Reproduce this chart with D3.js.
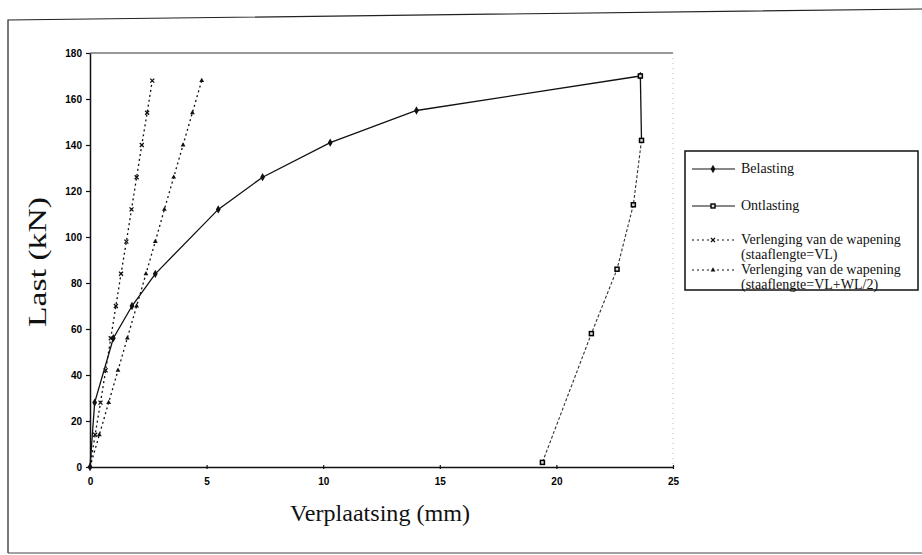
<!DOCTYPE html>
<html><head><meta charset="utf-8">
<script src="https://cdn.jsdelivr.net/npm/d3@7"></script>
<style>body{margin:0;background:#fff}svg{display:block}</style>
</head><body>
<script>
// ---- data ----
const belastingX = [0, 0.2, 1.0, 1.8, 2.8, 5.5, 7.4, 10.3, 14.0, 23.6];
const belastingY = [0, 28, 56, 70, 84, 112, 126, 141, 155, 170];
const ontlastingX = [23.6, 23.65, 23.3, 22.6, 21.5, 19.4];
const ontlastingY = [170, 142, 114, 86, 58, 2];
const vlX = [0, 0.22, 0.45, 0.67, 0.89, 1.11, 1.33, 1.56, 1.78, 2.0, 2.22, 2.45, 2.67];
const vlY = [0, 14, 28, 42, 56, 70, 84, 98, 112, 126, 140, 154, 168];
const vlwlX = [0, 0.4, 0.8, 1.2, 1.6, 2.0, 2.4, 2.8, 3.19, 3.59, 3.99, 4.39, 4.79];
const vlwlY = [0, 14, 28, 42, 56, 70, 84, 98, 112, 126, 140, 154, 168];
const xTicks = [0, 5, 10, 15, 20, 25];
const yTicks = [0, 20, 40, 60, 80, 100, 120, 140, 160, 180];
const legendLabels = [["Belasting"], ["Ontlasting"],
  ["Verlenging van de wapening", "(staaflengte=VL)"],
  ["Verlenging van de wapening", "(staaflengte=VL+WL/2)"]];

const W = 922, H = 555;
const svg = d3.select("body").append("svg").attr("width", W).attr("height", H);

// outer frame (scanned page frame)
svg.append("path").attr("d", "M8,553 L8,20 L922,9").attr("fill", "none").attr("stroke", "#222").attr("stroke-width", 1.2);
svg.append("line").attr("x1", 8).attr("x2", 922).attr("y1", 553).attr("y2", 553).attr("stroke", "#444").attr("stroke-width", 1);

const x = d3.scaleLinear().domain([0, 25]).range([90, 673]);
const y = d3.scaleLinear().domain([0, 180]).range([467, 53]);

// plot area borders
svg.append("line").attr("x1", x(0)).attr("x2", x(25)).attr("y1", y(180)).attr("y2", y(180)).attr("stroke", "#333").attr("stroke-width", 1);
svg.append("line").attr("x1", x(25)).attr("x2", x(25)).attr("y1", y(180)).attr("y2", y(0)).attr("stroke", "#bbb").attr("stroke-width", 1).attr("stroke-dasharray", "1,4");

// axes
const xAxis = d3.axisBottom(x).tickValues(xTicks).tickSize(4).tickSizeOuter(0).tickFormat(d3.format("d"));
const gx = svg.append("g").attr("transform", `translate(0,${y(0)})`).call(xAxis);
gx.selectAll("line").attr("transform", "translate(0,-2)");
gx.selectAll("text").attr("dy", "1.1em");
const yAxis = d3.axisLeft(y).tickValues(yTicks).tickSize(4).tickSizeOuter(0);
const gy = svg.append("g").attr("transform", `translate(${x(0)},0)`).call(yAxis);
[gx, gy].forEach(g => {
  g.select(".domain").attr("stroke", "#111").attr("stroke-width", 1.5);
  g.selectAll(".tick line").attr("stroke", "#111").attr("stroke-width", 1.2);
  g.selectAll("text").attr("font-family", "Liberation Sans, Arial, sans-serif").attr("font-size", 10).attr("fill", "#000").attr("font-weight", "bold");
});
gy.selectAll("text").attr("x", -8);

// axis titles
svg.append("text").attr("x", 380).attr("y", 521).attr("text-anchor", "middle")
  .attr("font-family", "Liberation Serif, Times New Roman, serif").attr("font-size", 24).attr("fill", "#111")
  .attr("textLength", 180).attr("lengthAdjust", "spacingAndGlyphs").text("Verplaatsing (mm)");
svg.append("text").attr("transform", "translate(46,262) rotate(-90)").attr("text-anchor", "middle")
  .attr("font-family", "Liberation Serif, Times New Roman, serif").attr("font-size", 25).attr("fill", "#111")
  .attr("textLength", 130).attr("lengthAdjust", "spacingAndGlyphs").text("Last (kN)");

const line = d3.line().x(d => x(d[0])).y(d => y(d[1]));
const zip = (a, b) => a.map((v, i) => [v, b[i]]);

// dashed theory lines
const vl = zip(vlX, vlY), vlwl = zip(vlwlX, vlwlY);
svg.append("path").attr("d", line(vl)).attr("fill", "none").attr("stroke", "#111").attr("stroke-width", 1.3).attr("stroke-dasharray", "2,3");
svg.append("path").attr("d", line(vlwl)).attr("fill", "none").attr("stroke", "#111").attr("stroke-width", 1.3).attr("stroke-dasharray", "2,3");
const star = d3.symbol().type(d3.symbolTimes).size(12);
const tri = d3.symbol().type(d3.symbolTriangle).size(10);
svg.selectAll(".vlm").data(vl.slice(1)).join("path").attr("d", star)
  .attr("transform", d => `translate(${x(d[0])},${y(d[1])})`).attr("fill", "none").attr("stroke", "#111").attr("stroke-width", 1.3);
svg.selectAll(".vlwlm").data(vlwl.slice(1)).join("path").attr("d", tri)
  .attr("transform", d => `translate(${x(d[0])},${y(d[1])})`).attr("fill", "#111");

// loading curve
const bel = zip(belastingX, belastingY);
svg.append("path").attr("d", line(bel)).attr("fill", "none").attr("stroke", "#111").attr("stroke-width", 1.3);
svg.selectAll(".belm").data(bel).join("path").attr("d", d3.symbol().type(d3.symbolDiamond).size(20))
  .attr("transform", d => `translate(${x(d[0])},${y(d[1])})`).attr("fill", "#111");

// unloading curve
const ont = zip(ontlastingX, ontlastingY);
svg.append("path").attr("d", line(ont.slice(0, 2))).attr("fill", "none").attr("stroke", "#111").attr("stroke-width", 1.3);
svg.append("path").attr("d", line(ont.slice(1))).attr("fill", "none").attr("stroke", "#333").attr("stroke-width", 1.1).attr("stroke-dasharray", "3,2");
svg.selectAll(".ontm").data(ont).join("rect")
  .attr("x", d => x(d[0]) - 2).attr("y", d => y(d[1]) - 2).attr("width", 4).attr("height", 4)
  .attr("fill", "#ddd").attr("stroke", "#000").attr("stroke-width", 1.5);

// legend
const lg = svg.append("g");
lg.append("rect").attr("x", 685).attr("y", 151).attr("width", 233).attr("height", 139)
  .attr("fill", "#fff").attr("stroke", "#111").attr("stroke-width", 1.5);
const rowsY = [169, 206, 240, 270];
legendLabels.forEach((lab, i) => {
  const yy = rowsY[i];
  const l = lg.append("line").attr("x1", 692).attr("x2", 735).attr("y1", yy).attr("y2", yy)
    .attr("stroke", "#111").attr("stroke-width", 1.2);
  if (i >= 2) l.attr("stroke-dasharray", "2,3");
  if (i === 0) lg.append("path").attr("d", d3.symbol().type(d3.symbolDiamond).size(20)).attr("transform", `translate(713,${yy})`).attr("fill", "#111");
  if (i === 1) lg.append("rect").attr("x", 711).attr("y", yy - 2).attr("width", 4).attr("height", 4).attr("fill", "#ddd").attr("stroke", "#000").attr("stroke-width", 1.4);
  if (i === 2) lg.append("path").attr("d", star).attr("transform", `translate(713,${yy})`).attr("fill", "none").attr("stroke", "#111").attr("stroke-width", 1.2);
  if (i === 3) lg.append("path").attr("d", tri).attr("transform", `translate(713,${yy})`).attr("fill", "#111");
  lab.forEach((t, j) => {
    lg.append("text").attr("x", 741).attr("y", yy + 4 + j * 14.5)
      .attr("font-family", "Liberation Serif, Times New Roman, serif").attr("font-size", 14).attr("fill", "#111").text(t);
  });
});
</script>
</body></html>
